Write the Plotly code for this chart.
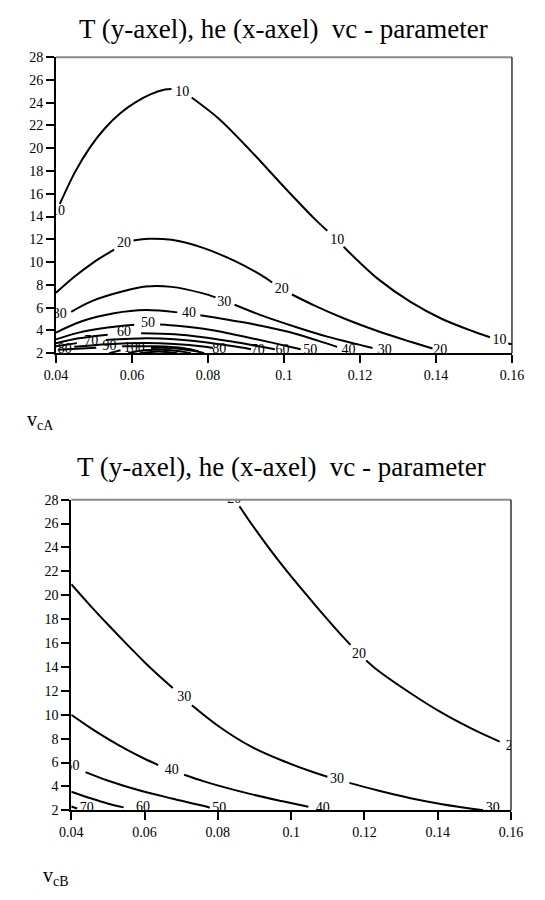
import plotly.graph_objects as go

# ---- axis ticks -------------------------------------------------------
he_ticks = [0.04, 0.06, 0.08, 0.10, 0.12, 0.14, 0.16]
he_tick_text = ["0.04", "0.06", "0.08", "0.1", "0.12", "0.14", "0.16"]
t_ticks = list(range(2, 29, 2))

TITLE = "T (y-axel), he (x-axel)\u00a0\u00a0vc - parameter"

# ---- case A: contour lines (he, T); None marks a break for a label ------
a10_he = [0.0410, 0.0450, 0.0490, 0.0530, 0.0570, 0.0610, 0.0650, 0.0687, 0.0704, None,
          0.0757, 0.0830, 0.0913, 0.0996, 0.1082, 0.1114, None,
          0.1157, 0.1198, 0.1248, 0.1333, 0.1416, 0.1499, 0.1542, None, 0.1590, 0.1600]
a10_T = [15.10, 17.90, 20.10, 21.80, 23.10, 24.05, 24.75, 25.15, 25.20, None,
         24.45, 22.55, 19.75, 16.75, 13.75, 12.75, None,
         11.35, 10.00, 8.50, 6.50, 5.00, 3.90, 3.40, None, 2.85, 2.78]

a20_he = [0.0400, 0.0450, 0.0500, 0.0553, None,
          0.0604, 0.0644, 0.0704, 0.0787, 0.0870, 0.0940, 0.0969, None,
          0.1021, 0.1082, 0.1165, 0.1248, 0.1333, 0.1391]
a20_T = [7.30, 8.75, 10.00, 11.10, None,
         11.90, 12.05, 11.95, 11.25, 10.10, 8.85, 8.20, None,
         7.15, 6.15, 4.95, 3.92, 3.00, 2.40]

a30_he = [0.0440, 0.0493, 0.0579, 0.0636, 0.0704, 0.0787, 0.0820, None,
          0.0870, 0.0946, 0.1031, 0.1114, 0.1197, 0.1233]
a30_T = [5.63, 6.55, 7.45, 7.85, 7.82, 7.25, 6.90, None,
         6.25, 5.25, 4.30, 3.45, 2.75, 2.45]

a40_he = [0.0400, 0.0468, 0.0553, 0.0636, 0.0719, None,
          0.0780, 0.0845, 0.0926, 0.1014, 0.1089, 0.1140]
a40_T = [3.81, 4.80, 5.50, 5.78, 5.58, None,
         5.32, 4.98, 4.50, 3.85, 3.10, 2.55]

a50_he = [0.0400, 0.0460, 0.0536, 0.0606, None,
          0.0674, 0.0719, 0.0805, 0.0888, 0.0971, 0.1044]
a50_T = [3.21, 3.80, 4.25, 4.50, None,
         4.52, 4.40, 4.05, 3.50, 2.90, 2.35]

a60_he = [0.0400, 0.0460, 0.0536, None, 0.0624, 0.0712, 0.0787, 0.0863, 0.0938, 0.0976]
a60_T = [2.86, 3.30, 3.62, None, 3.75, 3.66, 3.40, 3.02, 2.58, 2.35]

a70_he = [0.0400, 0.0455, None, 0.0531, 0.0636, 0.0712, 0.0787, 0.0863, 0.0913]
a70_T = [2.60, 2.88, None, 3.15, 3.30, 3.22, 2.97, 2.62, 2.35]

a80_he = [0.0448, 0.0536, 0.0636, 0.0712, 0.0787, 0.0813]
a80_T = [2.55, 2.78, 2.88, 2.80, 2.58, 2.45]

a90_he = [0.0405, 0.0506, None, 0.0574, 0.0662, 0.0737, 0.0775]
a90_T = [2.30, 2.48, None, 2.60, 2.60, 2.43, 2.17]

a100_he = [0.0540, 0.0570, None, 0.0650, 0.0700, 0.0760, 0.0790]
a100_T = [2.00, 2.25, None, 2.45, 2.45, 2.20, 2.00]

a110_he = [0.0590, 0.0630, 0.0680, 0.0730, 0.0755]
a110_T = [2.00, 2.25, 2.30, 2.15, 2.00]

a120_he = [0.0620, 0.0670, 0.0720]
a120_T = [2.00, 2.15, 2.00]

a_label_text = ["10", "10", "10", "10",
                "20", "20", "20",
                "30", "30", "30",
                "40", "40",
                "50", "50",
                "60", "60",
                "70", "70",
                "80", "80",
                "90", "100"]
a_label_he = [0.0405, 0.0732, 0.1140, 0.1567,
              0.0579, 0.0994, 0.1411,
              0.0410, 0.0843, 0.1265,
              0.0750, 0.1170,
              0.0642, 0.1069,
              0.0579, 0.0996,
              0.0493, 0.0931,
              0.0423, 0.0830,
              0.0541, 0.0606]
a_label_T = [14.44, 24.89, 11.93, 3.12,
             11.60, 7.61, 2.26,
             5.37, 6.49, 2.26,
             5.45, 2.26,
             4.59, 2.26,
             3.81, 2.26,
             3.04, 2.26,
             2.35, 2.35,
             2.60, 2.43]

# ---- case B: contour lines ------------------------------------------------
b20_he = [0.0859, 0.0890, 0.0977, 0.1065, 0.1151, 0.1162, None,
          0.1205, 0.1237, 0.1326, 0.1412, 0.1498, 0.1569]
b20_T = [27.45, 26.05, 22.45, 19.20, 16.20, 15.85, None,
         14.55, 13.70, 11.80, 10.15, 8.75, 7.75]

b30_he = [0.0400, 0.0450, 0.0500, 0.0550, 0.0600, 0.0640, 0.0677, None,
          0.0729, 0.0804, 0.0890, 0.0977, 0.1065, 0.1099, None,
          0.1159, 0.1237, 0.1326, 0.1412, 0.1498, 0.1524]
b30_T = [20.92, 19.20, 17.55, 15.95, 14.40, 13.25, 12.25, None,
         10.80, 9.00, 7.35, 6.15, 5.15, 4.82, None,
         4.30, 3.66, 3.02, 2.52, 2.12, 2.02]

b40_he = [0.0400, 0.0450, 0.0500, 0.0550, 0.0600, 0.0637, None,
          0.0708, 0.0760, 0.0804, 0.0890, 0.0977, 0.1047]
b40_T = [10.00, 8.95, 7.98, 7.10, 6.32, 5.80, None,
         4.98, 4.45, 4.05, 3.36, 2.76, 2.30]

b50_he = [0.0439, 0.0499, 0.0585, 0.0674, 0.0760, 0.0778]
b50_T = [5.20, 4.50, 3.68, 3.00, 2.38, 2.22]

b60_he = [0.0400, 0.0455, 0.0499, 0.0543]
b60_T = [3.56, 2.99, 2.58, 2.25]

b70_he = [0.0400, 0.0416]
b70_T = [2.33, 2.16]

b_label_text = ["20", "20", "20", "30", "30", "30", "40", "40", "50", "50", "60", "70"]
b_label_he = [0.0845, 0.1185, 0.1605, 0.0708, 0.1125, 0.1550,
              0.0674, 0.1086, 0.0403, 0.0804, 0.0596, 0.0442]
b_label_T = [28.0, 15.08, 7.35, 11.45, 4.60, 2.16,
             5.37, 2.16, 5.70, 2.16, 2.25, 2.16]

SERIF = "Liberation Serif, Times New Roman, serif"

fig = go.Figure()


def add_lines(pairs, xa, ya):
    for hx, ty in pairs:
        fig.add_trace(go.Scatter(
            x=hx, y=ty, mode="lines", xaxis=xa, yaxis=ya,
            line=dict(color="black", width=2, shape="spline", smoothing=0.9),
            connectgaps=False, hoverinfo="skip"))


add_lines([(a10_he, a10_T), (a20_he, a20_T), (a30_he, a30_T), (a40_he, a40_T),
           (a50_he, a50_T), (a60_he, a60_T), (a70_he, a70_T), (a80_he, a80_T),
           (a90_he, a90_T), (a100_he, a100_T), (a110_he, a110_T), (a120_he, a120_T)],
          "x", "y")
add_lines([(b20_he, b20_T), (b30_he, b30_T), (b40_he, b40_T),
           (b50_he, b50_T), (b60_he, b60_T), (b70_he, b70_T)],
          "x2", "y2")

fig.add_trace(go.Scatter(x=a_label_he, y=a_label_T, text=a_label_text, mode="text",
                         xaxis="x", yaxis="y", cliponaxis=True,
                         textfont=dict(family=SERIF, size=14, color="black"),
                         hoverinfo="skip"))
fig.add_trace(go.Scatter(x=b_label_he, y=b_label_T, text=b_label_text, mode="text",
                         xaxis="x2", yaxis="y2", cliponaxis=True,
                         textfont=dict(family=SERIF, size=14, color="black"),
                         hoverinfo="skip"))

W, H = 545, 900


def xdom(l, r):
    return [l / W, r / W]


def ydom(top, bottom):
    return [1 - bottom / H, 1 - top / H]


axis_common = dict(showline=True, linecolor="black", linewidth=2, ticks="outside",
                   ticklen=8, tickwidth=1.5, tickcolor="black", showgrid=False,
                   zeroline=False, tickfont=dict(family=SERIF, size=14, color="black"))

fig.update_layout(
    width=W, height=H, margin=dict(l=0, r=0, t=0, b=0),
    paper_bgcolor="white", plot_bgcolor="white", showlegend=False,
    xaxis=dict(domain=xdom(46, 523), anchor="y", range=[0.04, 0.16],
               tickvals=he_ticks, ticktext=he_tick_text, **axis_common),
    yaxis=dict(domain=ydom(51, 352), anchor="x", range=[2, 28],
               tickvals=t_ticks, **axis_common),
    xaxis2=dict(domain=xdom(62, 522), anchor="y2", range=[0.04, 0.16],
                tickvals=he_ticks, ticktext=he_tick_text, **axis_common),
    yaxis2=dict(domain=ydom(501, 817), anchor="x2", range=[2, 28],
                tickvals=t_ticks, **axis_common),
)

# plot frame: grey top edge, thin black right edge
for xr, yr in (("x domain", "y domain"), ("x2 domain", "y2 domain")):
    fig.add_shape(type="line", xref=xr, yref=yr, x0=0, x1=1, y0=1, y1=1,
                  line=dict(color="#8a8a8a", width=2))
    fig.add_shape(type="line", xref=xr, yref=yr, x0=1, x1=1, y0=0, y1=1,
                  line=dict(color="black", width=1.2))

# titles and case labels
for cx, cy in ((284, 22), (282, 468)):
    fig.add_annotation(text=TITLE, xref="paper", yref="paper", x=cx / W, y=1 - cy / H,
                       showarrow=False, xanchor="center", yanchor="middle",
                       font=dict(family=SERIF, size=27, color="black"))

for txt, cx, cy in (("v<sub>cA</sub>", 14, 420), ("v<sub>cB</sub>", 30, 884)):
    fig.add_annotation(text=txt, xref="paper", yref="paper", x=cx / W, y=1 - cy / H,
                       showarrow=False, xanchor="left", yanchor="middle",
                       font=dict(family=SERIF, size=20, color="black"))

fig.write_html("out.html")
